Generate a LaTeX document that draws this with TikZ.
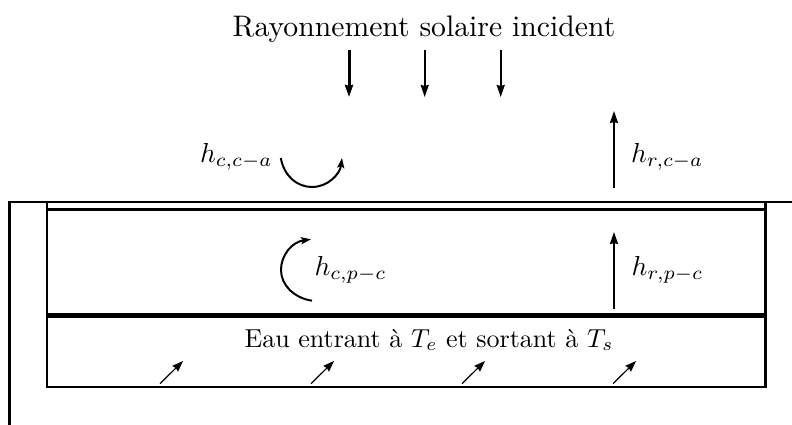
\documentclass[tikz,border=0pt]{standalone}
\usetikzlibrary{arrows.meta}
\tikzset{
  wall/.style={draw=black,line cap=butt},
  ray/.style={draw=black,line width=1.9pt,-{Stealth[length=12pt,width=8pt,inset=1pt]}},
  thin ray/.style={draw=black,line width=1.2pt,-{Stealth[length=11pt,width=8pt,inset=1pt]}},
  swirl/.style={draw=black,line width=2pt,-{Stealth[length=10pt,width=7pt,inset=2pt]}},
  lab/.style={inner sep=0pt,anchor=base west},
}
\begin{document}
\begin{tikzpicture}[x=1pt,y=-1pt]
\useasboundingbox (0,0) rectangle (792,425);
\coordinate (ol) at (9.3,425); \coordinate (otl) at (9.3,201); \coordinate (otr) at (792,202);
\coordinate (itl) at (47,202); \coordinate (ibl) at (47,386.5); \coordinate (ibr) at (765.5,386.5); \coordinate (itr) at (765.5,202);
\coordinate (gl) at (47,209.3); \coordinate (gr) at (765.5,209.3);
\coordinate (pl) at (47,315.3); \coordinate (pr) at (765.5,315.3);
\draw[wall,line width=2.8pt] (ol) -- (otl);
\draw[wall,line width=2pt] (8,202) -- (otr);
\draw[wall,line width=2pt] (itl) -- (ibl);
\draw[wall,line width=2pt] (46,386.5) -- (767,386.5);
\draw[wall,line width=3pt] (itr) -- (765.5,387.5);
\draw[wall,line width=3pt] (gl) -- (gr);
\draw[wall,line width=4.6pt] (pl) -- (pr);
\node[lab,anchor=base,scale=2.97] (title) at (424,37) {Rayonnement solaire incident};
\coordinate (a1) at (349,50); \coordinate (a1e) at (349,97);
\coordinate (a2) at (424.7,50); \coordinate (a2e) at (424.7,97);
\coordinate (a3) at (500.7,50); \coordinate (a3e) at (500.7,97);
\draw[ray,line width=3pt] (a1) -- (a1e);
\draw[ray] (a2) -- (a2e);
\draw[ray] (a3) -- (a3e);
\coordinate (u1) at (614,188); \coordinate (u1e) at (614,111);
\coordinate (u2) at (614,309); \coordinate (u2e) at (614,232);
\draw[ray] (u1) -- (u1e);
\draw[ray] (u2) -- (u2e);
\foreach \x/\n in {160/d1,311/d2,462/d3,613/d4}{
  \coordinate (\n s) at (\x,383.7);
  \coordinate (\n e) at (\x+23,361);
  \draw[thin ray] (\n s) -- (\n e);
}
\coordinate (s1) at (280.8,158); \coordinate (s1e) at (342,158);
\draw[swirl] (s1) .. controls (284,176) and (297,187) .. (312,187) .. controls (328,187) and (340,174) .. (s1e);
\coordinate (s2) at (312,300.7); \coordinate (s2e) at (311,239.3);
\draw[swirl] (s2) .. controls (294,298) and (281,285) .. (281,270) .. controls (281,255) and (292,242) .. (s2e);
\node[lab,scale=2.75] (l1) at (199.5,162) {$h_{c,c-a}$};
\node[lab,scale=2.75] (l2) at (630.5,162.5) {$h_{r,c-a}$};
\node[lab,scale=2.75] (l3) at (314,275.7) {$h_{c,p-c}$};
\node[lab,scale=2.75] (l4) at (631,275.5) {$h_{r,p-c}$};
\node[lab,anchor=base,scale=2.6] (eau) at (429,347) {Eau entrant à $T_e$ et sortant à $T_s$};
\end{tikzpicture}
\end{document}
